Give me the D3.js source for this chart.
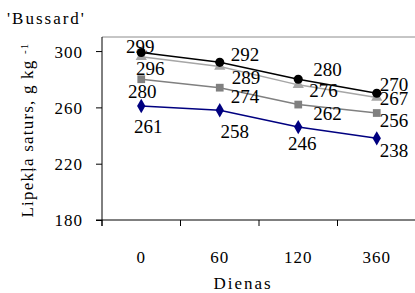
<!DOCTYPE html>
<html>
<head>
<meta charset="utf-8">
<script src="https://cdn.jsdelivr.net/npm/d3@7"></script>
<style>
  body { margin: 0; background: #fff; }
</style>
</head>
<body>
<div id="chart"></div>
<script>
// chart data
var days = ["0", "60", "120", "360"];
var yTicks = [180, 220, 260, 300];
var seriesA = [299, 292, 280, 270];   // black circles
var seriesB = [296, 289, 276, 267];   // light grey triangles
var seriesC = [280, 274, 262, 256];   // grey squares
var seriesD = [261, 258, 246, 238];   // navy diamonds

var width = 415, height = 293;
var plotLeft = 102, plotRight = 416, plotTop = 37, plotBottom = 220;
var serif = "'Liberation Serif', Tinos, 'Times New Roman', 'DejaVu Serif', serif";

var svg = d3.select("#chart").append("svg")
    .attr("width", width)
    .attr("height", height);

//scales
var xScale = d3.scaleBand().domain(days).range([plotLeft, plotRight]);
var yScale = d3.scaleLinear().domain([180, 310]).range([plotBottom, plotTop]);

//grey top border of plot area
svg.append("line")
    .attr("x1", plotLeft).attr("x2", width)
    .attr("y1", plotTop).attr("y2", plotTop)
    .attr("stroke", "#8c8c8c").attr("stroke-width", 1);

//Y axis
var yAxis = d3.axisLeft(yScale).tickValues(yTicks).tickSize(6).tickPadding(13);
var gy = svg.append("g")
    .attr("transform", "translate(" + plotLeft + ",0)")
    .call(yAxis)
    .attr("font-family", serif);
gy.select(".domain").attr("d", "M0," + plotTop + "V" + (plotBottom + 6));
gy.selectAll("text")
    .style("font-family", serif)
    .style("font-size", "17px")
    .style("letter-spacing", "1px")
    .attr("dy", "0.35em")
    .attr("fill", "#000");

//X axis, ticks between categories
var xAxis = d3.axisBottom(xScale).tickSize(0).tickPadding(31);
var gx = svg.append("g")
    .attr("transform", "translate(0," + plotBottom + ")")
    .call(xAxis)
    .attr("font-family", serif);
gx.select(".domain").attr("d", "M" + (plotLeft - 6) + ",0H" + width);
gx.selectAll("text")
    .style("font-family", serif)
    .style("font-size", "17px")
    .style("letter-spacing", "1px")
    .attr("fill", "#000");
gx.selectAll(".sep")
    .data(days)
    .enter().append("line")
    .attr("x1", function(d){ return xScale(d); })
    .attr("x2", function(d){ return xScale(d); })
    .attr("y1", 0).attr("y2", 6)
    .attr("stroke", "#000");
svg.selectAll(".domain, .tick line").attr("stroke", "#000");

//axis titles
svg.append("text")
    .attr("x", 243)
    .attr("y", 289)
    .attr("text-anchor", "middle")
    .style("font-family", serif)
    .style("font-size", "17px")
    .style("letter-spacing", "2px")
    .text("Dienas");

svg.append("text")
    .attr("x", 7).attr("y", 24)
    .style("font-family", serif)
    .style("font-size", "17px")
    .style("letter-spacing", "2px")
    .text("'Bussard'");

var yTitle = svg.append("text")
    .attr("transform", "translate(33,130) rotate(-90)")
    .attr("text-anchor", "middle")
    .style("font-family", serif)
    .style("font-size", "17px")
    .style("letter-spacing", "1.2px");
yTitle.append("tspan").text("Lipekļa saturs, g kg ");
yTitle.append("tspan").attr("dy", "-0.5em").style("font-size", "11px").text("-1");

//series drawing settings
var series = [
    { values: seriesD, color: "#000080", shape: d3.symbolDiamond, size: 60,
      labels: [[7, 27, "middle"], [15, 28, "middle"], [4, 23, "middle"], [3, 19, "start"]] },
    { values: seriesC, color: "#808080", shape: d3.symbolSquare, size: 60,
      labels: [[1, 19, "middle"], [11, 15, "start"], [15, 15, "start"], [3, 14, "start"]] },
    { values: seriesB, color: "#a6a6a6", shape: d3.symbolTriangle, size: 55,
      labels: [[9, 18, "middle"], [12, 17, "start"], [11, 12, "start"], [3, 7, "start"]] },
    { values: seriesA, color: "#000000", shape: d3.symbolCircle, size: 65,
      labels: [[-1, 1, "middle"], [11, -1, "start"], [15, -3, "start"], [3, -2, "start"]] }
];

var line = d3.line()
    .x(function(d, i){ return xScale(days[i]) + xScale.bandwidth() / 2; })
    .y(function(d){ return yScale(d); });

series.forEach(function(s){
    svg.append("path")
        .datum(s.values)
        .attr("d", line)
        .attr("fill", "none")
        .attr("stroke", s.color)
        .attr("stroke-width", 1.5);
});

series.forEach(function(s){
    svg.selectAll(null)
        .data(s.values)
        .enter().append("path")
        .attr("transform", function(d, i){
            return "translate(" + (xScale(days[i]) + xScale.bandwidth() / 2) + "," + yScale(d) + ")";
        })
        .attr("d", d3.symbol().type(s.shape).size(s.size))
        .attr("fill", s.color);
});

series.forEach(function(s){
    svg.selectAll(null)
        .data(s.values)
        .enter().append("text")
        .attr("x", function(d, i){ return xScale(days[i]) + xScale.bandwidth() / 2 + s.labels[i][0]; })
        .attr("y", function(d, i){ return yScale(d) + s.labels[i][1]; })
        .attr("text-anchor", function(d, i){ return s.labels[i][2]; })
        .style("font-family", serif)
        .style("font-size", "19px")
        .text(function(d){ return d; });
});
</script>
</body>
</html>
